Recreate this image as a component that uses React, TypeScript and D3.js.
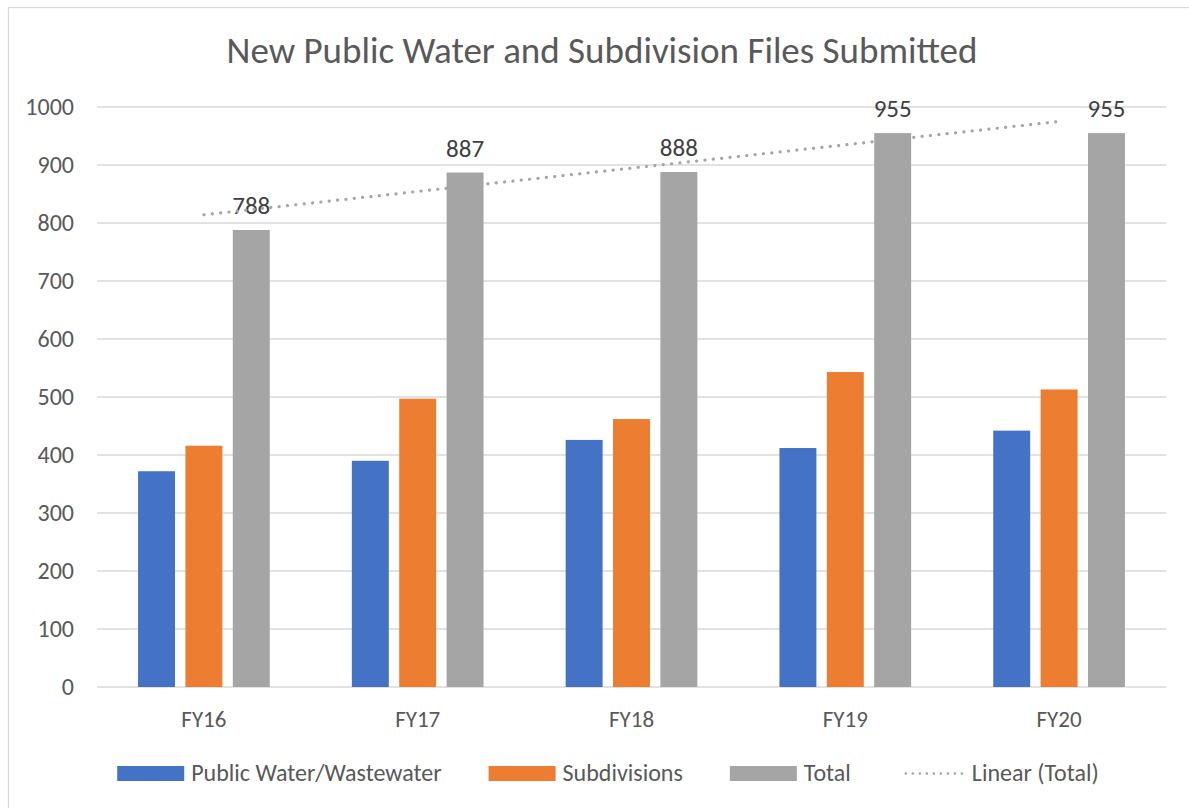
import React, { useEffect, useRef } from "react";
import * as d3 from "d3";

const categories = ["FY16", "FY17", "FY18", "FY19", "FY20"];
const seriesNames = ["Public Water/Wastewater", "Subdivisions", "Total"];
const publicWater = [372, 390, 426, 412, 442];
const subdivisions = [416, 497, 462, 543, 513];
const totals = [788, 887, 888, 955, 955];
const yTicks = [0, 100, 200, 300, 400, 500, 600, 700, 800, 900, 1000];
const colors = ["#4472C4", "#ED7D31", "#A5A5A5"];

const FONT = "Carlito, 'Liberation Sans Narrow', 'Open Sans', sans-serif";

export default function App() {
  const ref = useRef<SVGSVGElement | null>(null);

  useEffect(() => {
    const width = 1189;
    const height = 808;
    const margin = { top: 107, right: 23, bottom: 121, left: 97 };

    const svg = d3.select(ref.current);
    svg.selectAll("*").remove();

    // chart frame (right/bottom edge falls outside the picture)
    svg
      .append("rect")
      .attr("x", 8.5)
      .attr("y", 7.5)
      .attr("width", 1200)
      .attr("height", 820)
      .attr("fill", "#fff")
      .attr("stroke", "#d9d9d9")
      .attr("stroke-width", 1.3);

    svg
      .append("text")
      .attr("x", 602)
      .attr("y", 63)
      .attr("text-anchor", "middle")
      .attr("font-family", FONT)
      .attr("font-size", 37)
      .attr("fill", "#595959")
      .text("New Public Water and Subdivision Files Submitted");

    const y = d3
      .scaleLinear()
      .domain([0, 1000])
      .range([height - margin.bottom, margin.top]);

    const x0 = d3
      .scaleBand()
      .domain(categories)
      .range([margin.left, width - margin.right])
      .padding(0);

    const groupPad = x0.bandwidth() * 0.192;
    const x1 = d3
      .scaleBand()
      .domain(seriesNames)
      .range([groupPad, x0.bandwidth() - groupPad])
      .paddingInner(0.22);

    // gridlines
    svg
      .append("g")
      .selectAll("line")
      .data(yTicks)
      .join("line")
      .attr("x1", margin.left)
      .attr("x2", width - margin.right)
      .attr("y1", d => y(d))
      .attr("y2", d => y(d))
      .attr("stroke", "#d9d9d9")
      .attr("stroke-width", 1.4);

    // y labels
    svg
      .append("g")
      .selectAll("text")
      .data(yTicks)
      .join("text")
      .attr("x", 74)
      .attr("y", d => y(d))
      .attr("dy", "0.35em")
      .attr("text-anchor", "end")
      .attr("font-family", FONT)
      .attr("font-size", 24)
      .attr("fill", "#595959")
      .text(d => d);

    const table = categories.map((c, i) => ({
      category: c,
      values: [publicWater[i], subdivisions[i], totals[i]]
    }));

    const groups = svg
      .append("g")
      .selectAll("g")
      .data(table)
      .join("g")
      .attr("transform", d => `translate(${x0(d.category)},0)`);

    groups
      .selectAll("rect")
      .data(d => d.values.map((v, k) => ({ name: seriesNames[k], value: v, k })))
      .join("rect")
      .attr("x", d => x1(d.name)!)
      .attr("width", x1.bandwidth())
      .attr("y", d => y(d.value))
      .attr("height", d => y(0) - y(d.value))
      .attr("fill", d => colors[d.k]);

    // data labels for Total
    groups
      .append("text")
      .attr("x", x1("Total")! + x1.bandwidth() / 2)
      .attr("y", d => y(d.values[2]) - 16)
      .attr("text-anchor", "middle")
      .attr("font-family", FONT)
      .attr("font-size", 25)
      .attr("fill", "#404040")
      .text(d => d.values[2]);

    // x labels
    svg
      .append("g")
      .selectAll("text")
      .data(categories)
      .join("text")
      .attr("x", d => x0(d)! + x0.bandwidth() / 2)
      .attr("y", 727)
      .attr("text-anchor", "middle")
      .attr("font-family", FONT)
      .attr("font-size", 23)
      .attr("fill", "#595959")
      .text(d => d);

    // linear trendline on totals
    const idx = totals.map((_, i) => i + 1);
    const mx = d3.mean(idx)!;
    const my = d3.mean(totals)!;
    const slope =
      d3.sum(idx, (xi, i) => (xi - mx) * (totals[i] - my)) /
      d3.sum(idx, xi => (xi - mx) ** 2);
    const intercept = my - slope * mx;
    const xc = (i: number) => x0(categories[i - 1])! + x0.bandwidth() / 2;
    const line = d3
      .line<number>()
      .x(i => xc(i))
      .y(i => y(intercept + slope * i));
    svg
      .append("path")
      .attr("d", line([1, 5]))
      .attr("fill", "none")
      .attr("stroke", "#A5A5A5")
      .attr("stroke-width", 3.2)
      .attr("stroke-linecap", "round")
      .attr("stroke-dasharray", "0.1 8.3");

    // legend
    const legend = svg.append("g");
    const items = [...seriesNames, "Linear (Total)"];
    const sw = 67;
    const gap = 7;
    const spacing = 47;
    let cx = 0;
    items.forEach((name, k) => {
      const g = legend.append("g").attr("transform", `translate(${cx},0)`);
      if (k < 3) {
        g.append("rect")
          .attr("x", 0)
          .attr("y", -7)
          .attr("width", sw)
          .attr("height", 15)
          .attr("fill", colors[k]);
      } else {
        g.append("line")
          .attr("x1", 8)
          .attr("x2", sw - 2)
          .attr("y1", 0.5)
          .attr("y2", 0.5)
          .attr("stroke", "#A5A5A5")
          .attr("stroke-width", 2.6)
          .attr("stroke-linecap", "round")
          .attr("stroke-dasharray", "0.1 6.9");
      }
      const t = g
        .append("text")
        .attr("x", sw + gap)
        .attr("y", 0)
        .attr("dy", "0.35em")
        .attr("font-family", FONT)
        .attr("font-size", 24)
        .attr("fill", "#595959")
        .text(name);
      const tw = (t.node() as SVGTextElement).getComputedTextLength();
      cx += sw + gap + tw + spacing;
    });
    const total = cx - spacing;
    legend.attr("transform", `translate(${608 - total / 2},773)`);
  }, []);

  return (
    <svg
      ref={ref}
      width={1189}
      height={808}
      style={{ position: "absolute", left: 0, top: 0, background: "#fff" }}
    />
  );
}
